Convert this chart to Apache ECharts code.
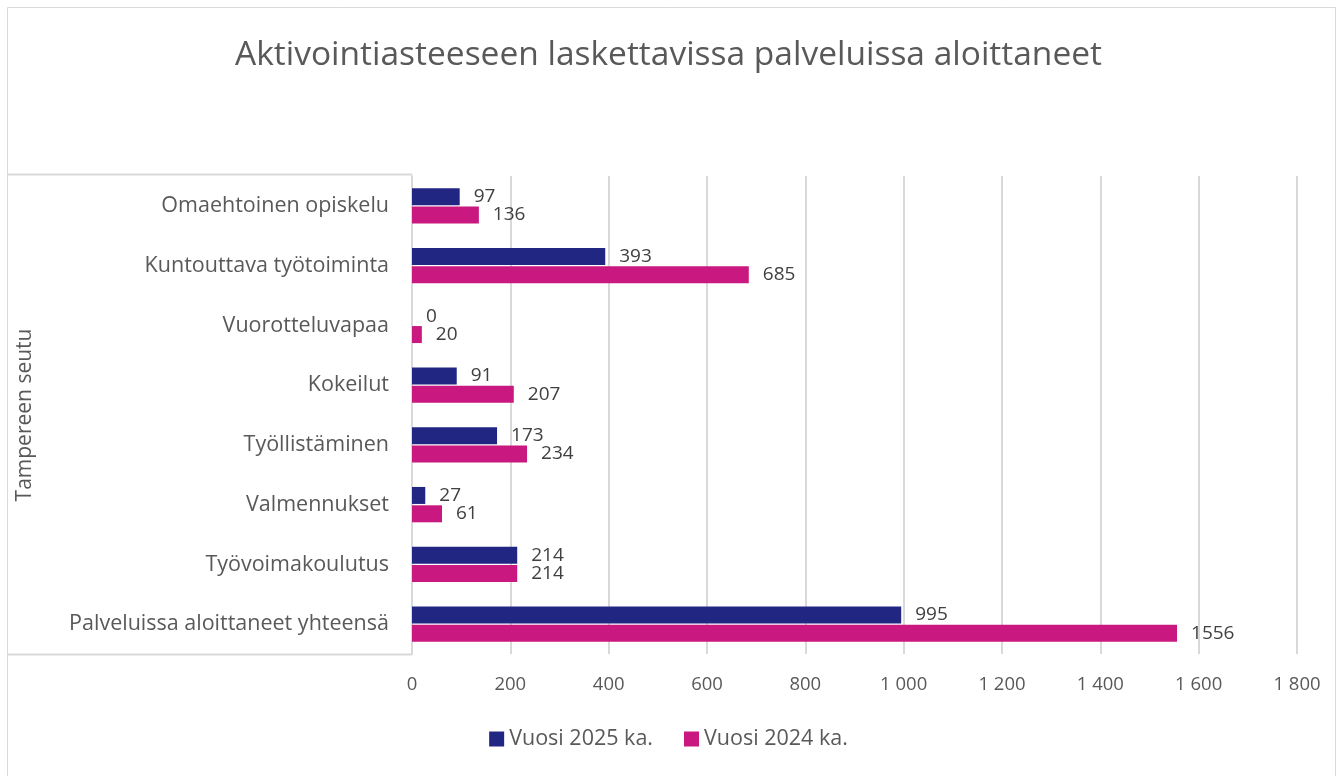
<!DOCTYPE html>
<html>
<head>
<meta charset="utf-8">
<script src="https://cdn.jsdelivr.net/npm/echarts@6/dist/echarts.min.js"></script>
<style>
  html, body { margin: 0; padding: 0; background: #fff; }
  #chart { width: 1337px; height: 776px; }
</style>
</head>
<body>
<div id="chart"></div>
<script>
const categories = [
  'Omaehtoinen opiskelu',
  'Kuntouttava työtoiminta',
  'Vuorotteluvapaa',
  'Kokeilut',
  'Työllistäminen',
  'Valmennukset',
  'Työvoimakoulutus',
  'Palveluissa aloittaneet yhteensä'
]
const vuosi2025 = [97, 393, 0, 91, 173, 27, 214, 995]
const vuosi2024 = [136, 685, 20, 207, 234, 61, 214, 1556]
const seriesNames = ['Vuosi 2025 ka.', 'Vuosi 2024 ka.']
const color = ['#222683', '#C9187F']

const font = '"Open Sans", sans-serif'

const myChart = echarts.init(document.getElementById('chart'))

// tuhaterotin välilyönnillä
const fmt = v => String(v).replace(/\B(?=(\d{3})+(?!\d))/g, ' ')

const barLabel = {
  show: true,
  position: 'right',
  distance: 14,
  color: '#404040',
  fontSize: 19,
  fontFamily: font
}

const option = {
  backgroundColor: '#fff',
  title: {
    text: 'Aktivointiasteeseen laskettavissa palveluissa aloittaneet',
    left: 'center',
    top: 33,
    textStyle: {
      color: '#595959',
      fontSize: 33.5,
      fontWeight: 'normal',
      fontFamily: font
    }
  },
  // kehys ja ryhmän rajaus vasemmalla
  graphic: [
    {
      type: 'rect',
      shape: {x: 7.5, y: 7.5, width: 1328, height: 800},
      style: {fill: null, stroke: '#d9d9d9', lineWidth: 1},
      silent: true
    },
    {
      type: 'polyline',
      shape: {points: [[412, 174.5], [7.5, 174.5]]},
      style: {stroke: '#d9d9d9', lineWidth: 2},
      silent: true
    },
    {
      type: 'polyline',
      shape: {points: [[412, 654.5], [7.5, 654.5]]},
      style: {stroke: '#d9d9d9', lineWidth: 2},
      silent: true
    }
  ],
  legend: {
    data: seriesNames,
    bottom: 21,
    left: 'center',
    itemWidth: 15,
    itemHeight: 15,
    itemGap: 31,
    icon: 'rect',
    textStyle: {
      color: '#595959',
      fontSize: 21.5,
      fontFamily: font
    }
  },
  grid: {
    left: 412,
    right: 40,
    top: 176,
    bottom: 122,
    containLabel: false
  },
  xAxis: {
    type: 'value',
    min: 0,
    max: 1800,
    interval: 200,
    axisLine: {show: false},
    axisTick: {show: false},
    splitLine: {lineStyle: {color: '#d9d9d9', width: 2}},
    axisLabel: {
      color: '#595959',
      fontSize: 18.5,
      fontFamily: font,
      margin: 21,
      formatter: fmt
    }
  },
  yAxis: {
    type: 'category',
    data: categories,
    inverse: true,
    axisLine: {lineStyle: {color: '#d9d9d9', width: 2}},
    axisTick: {show: false},
    axisLabel: {
      color: '#595959',
      fontSize: 21.5,
      fontFamily: font,
      margin: 23
    },
    name: 'Tampereen seutu',
    nameLocation: 'middle',
    nameRotate: 90,
    nameGap: 376,
    nameTextStyle: {
      color: '#595959',
      fontSize: 21,
      fontFamily: font
    }
  },
  series: [
    {
      name: seriesNames[0],
      type: 'bar',
      data: vuosi2025,
      barWidth: 17,
      barGap: '8%',
      itemStyle: {color: color[0]},
      label: barLabel
    },
    {
      name: seriesNames[1],
      type: 'bar',
      data: vuosi2024,
      barWidth: 17,
      barGap: '8%',
      itemStyle: {color: color[1]},
      label: barLabel
    }
  ]
}

myChart.setOption(option)
</script>
</body>
</html>
